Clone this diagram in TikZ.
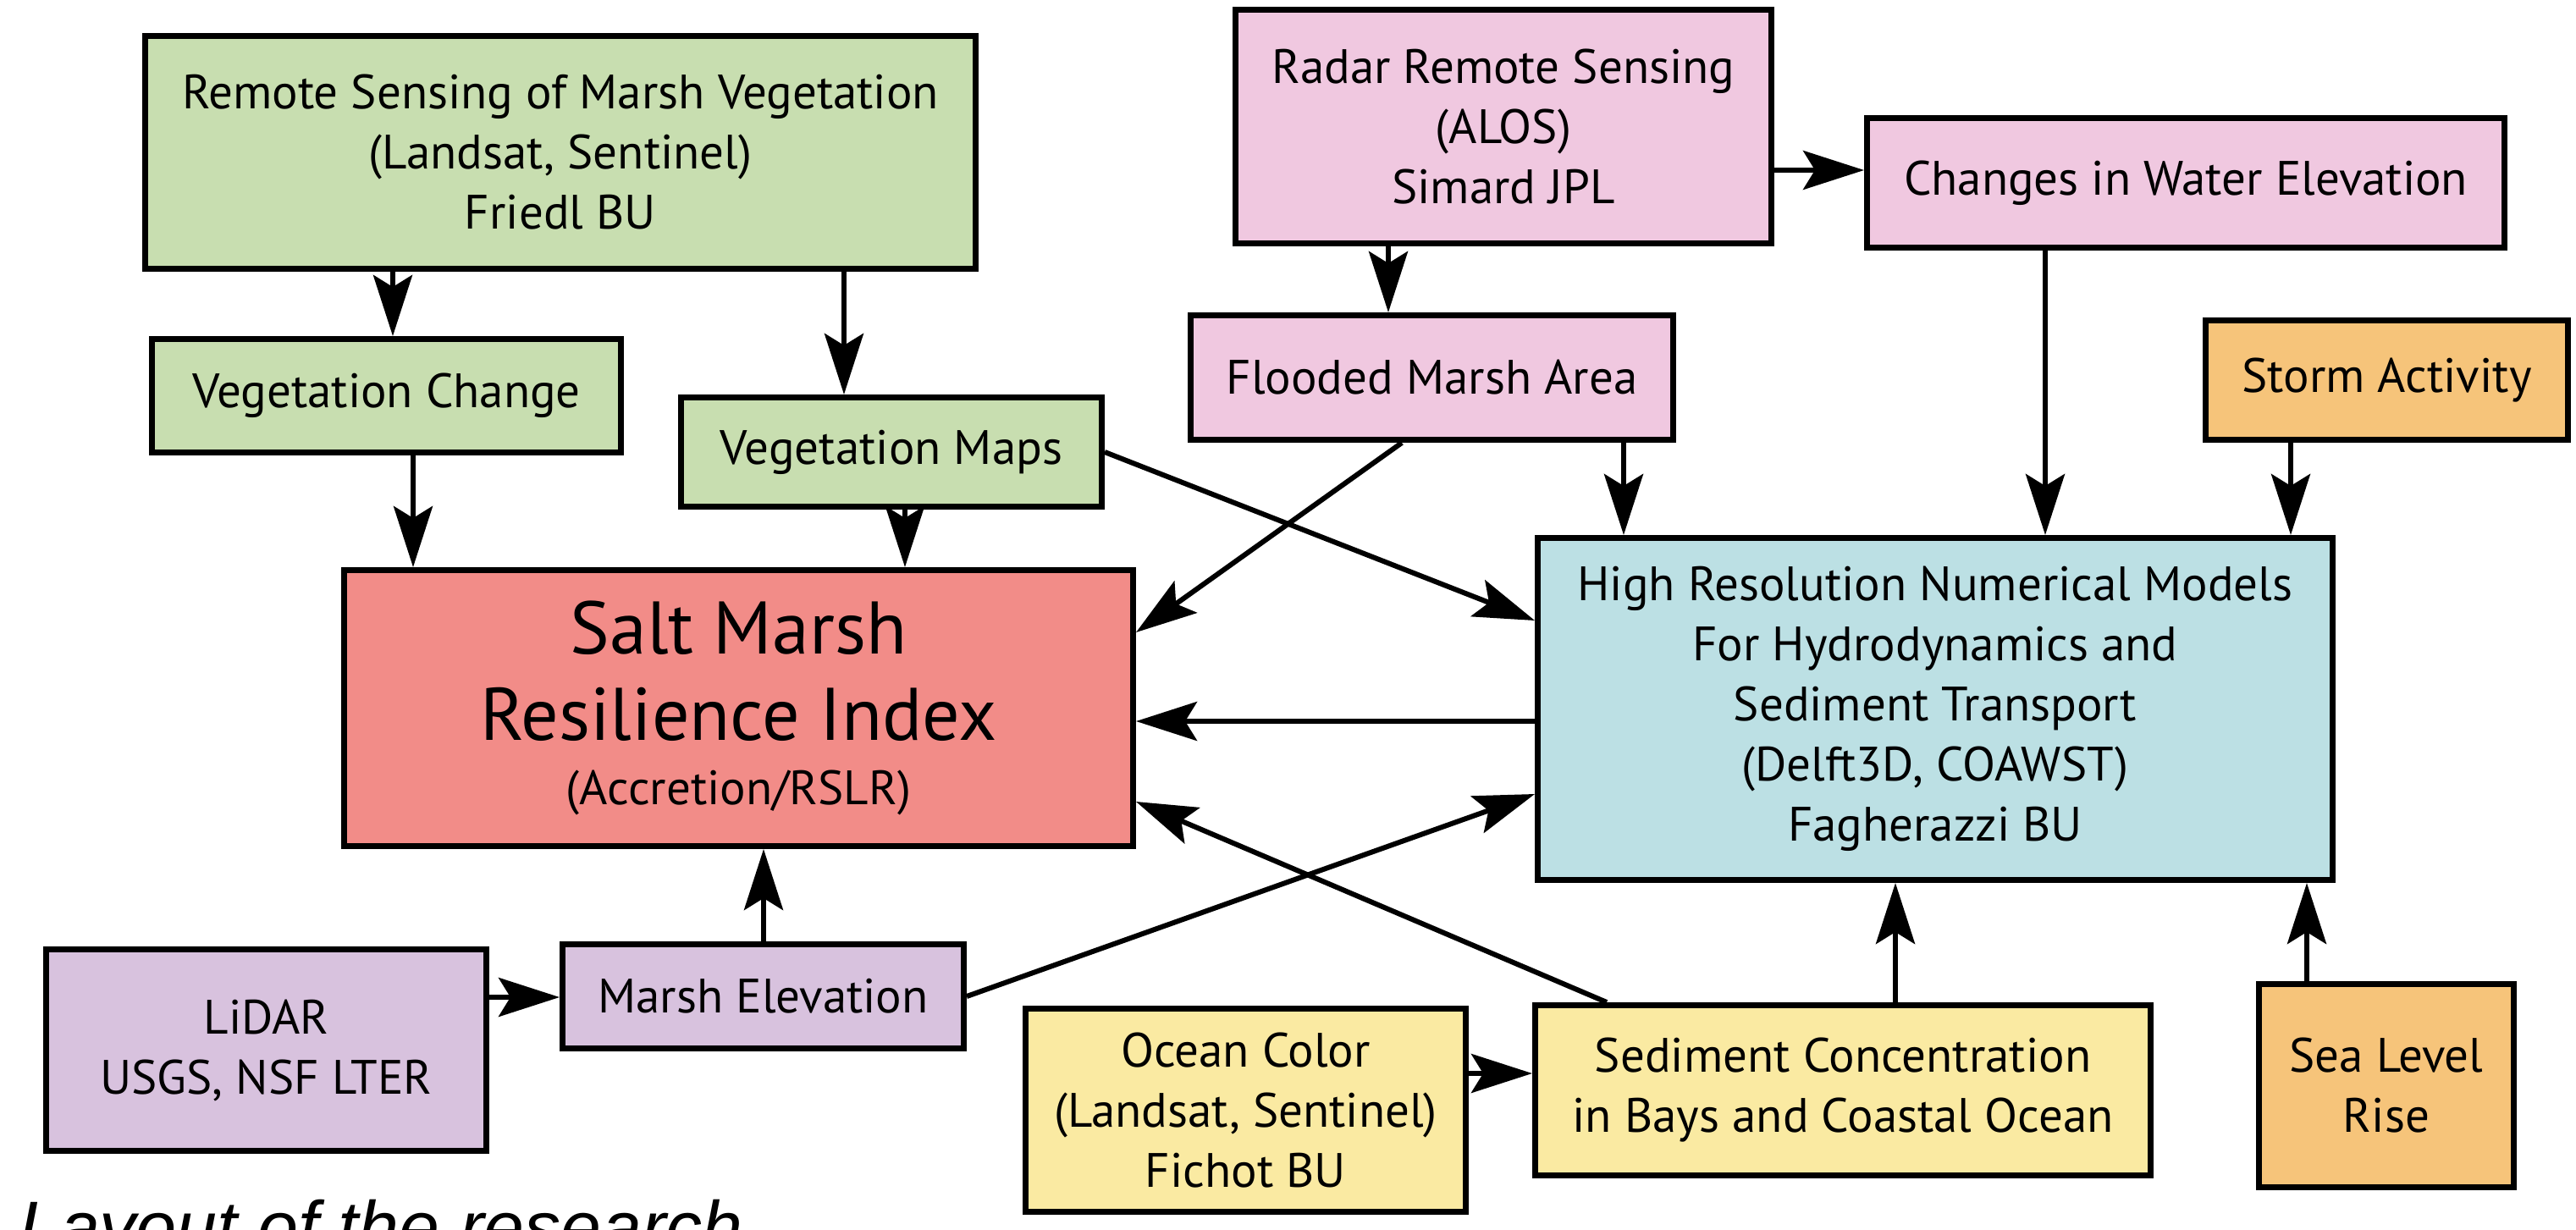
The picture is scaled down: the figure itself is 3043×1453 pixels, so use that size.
\documentclass[tikz,border=0pt]{standalone}
\usepackage{fontspec}
\setmainfont{PT Sans}
\newfontfamily\capfont{Liberation Sans}
\usetikzlibrary{arrows.meta}
\definecolor{cgreen}{HTML}{C8DEB0}
\definecolor{cpink}{HTML}{F0C8E0}
\definecolor{cred}{HTML}{F28C88}
\definecolor{cblue}{HTML}{BCE0E4}
\definecolor{cyellow}{HTML}{FAEAA2}
\definecolor{corange}{HTML}{F6C47A}
\definecolor{cpurple}{HTML}{D8C2DE}
\tikzset{
  boxnode/.style={draw=black, line width=7pt, inner sep=0pt, align=center,
    font=\fontsize{57}{71}\selectfont, text=black},
  arr/.style={line width=6pt, -{Stealth[length=72pt, width=46pt, inset=14pt]}},
}
\begin{document}
\begin{tikzpicture}[x=1pt,y=-1pt]
\useasboundingbox (0,0) rectangle (3043,1453);
\clip (0,0) rectangle (3043,1453);
\fill[white] (0,0) rectangle (3043,1453);

\node[boxnode, fill=cgreen, minimum width=981pt, minimum height=275pt] (A) at (662,180)
  {Remote Sensing of Marsh Vegetation\\(Landsat, Sentinel)\\Friedl BU};
\node[boxnode, fill=cgreen, minimum width=554pt, minimum height=134pt] (VC) at (456.5,467.5)
  {Vegetation Change};
\node[boxnode, fill=cgreen, minimum width=497pt, minimum height=129pt] (VM) at (1053,534)
  {Vegetation Maps};
\node[boxnode, fill=cred, minimum width=932pt, minimum height=326pt,
      font=\fontsize{88}{102}\selectfont] (SM) at (872.5,836.5)
  {Salt Marsh\\Resilience Index\\[-26pt]\fontsize{57}{102}\selectfont (Accretion/RSLR)};
\node[boxnode, fill=cpink, minimum width=633pt, minimum height=276pt] (R) at (1776,149.5)
  {Radar Remote Sensing\\(ALOS)\\Simard JPL};
\node[boxnode, fill=cpink, minimum width=753pt, minimum height=153pt] (CWE) at (2582,216)
  {Changes in Water Elevation};
\node[boxnode, fill=cpink, minimum width=570pt, minimum height=147pt] (FMA) at (1691.5,446)
  {Flooded Marsh Area};
\node[boxnode, fill=corange, minimum width=428pt, minimum height=141pt] (ST) at (2819.5,449)
  {Storm Activity};
\node[boxnode, fill=cblue, minimum width=939pt, minimum height=404pt] (HR) at (2286,837.5)
  {High Resolution Numerical Models\\For Hydrodynamics and\\Sediment Transport\\(Delft3D, COAWST)\\Fagherazzi BU};
\node[boxnode, fill=cpurple, minimum width=520pt, minimum height=238pt] (LI) at (314.5,1240.5)
  {LiDAR\\USGS, NSF LTER};
\node[boxnode, fill=cpurple, minimum width=474pt, minimum height=123pt] (ME) at (901.5,1177)
  {Marsh Elevation};
\node[boxnode, fill=cyellow, minimum width=520pt, minimum height=240pt] (OC) at (1471.5,1311.5)
  {Ocean Color\\(Landsat, Sentinel)\\Fichot BU};
\node[boxnode, fill=cyellow, minimum width=727pt, minimum height=201pt] (SED) at (2177,1288)
  {Sediment Concentration\\in Bays and Coastal Ocean};
\node[boxnode, fill=corange, minimum width=301pt, minimum height=240pt] (SLR) at (2819,1282.5)
  {Sea Level\\Rise};

% connectors
\draw[arr] ([xshift=-198]A.south) -- ([xshift=7.5]VC.north);
\draw[arr] ([xshift=335]A.south) -- ([xshift=-56]VM.north);
\draw[arr] ([xshift=31.5]VC.south) -- ([xshift=-384.5]SM.north);
\draw[arr] ([xshift=16]VM.south) -- ([xshift=196.5]SM.north);
\draw[arr] ([xshift=-136]R.south) -- ([xshift=-51.5]FMA.north);
\draw[arr] ([yshift=-51.5]R.east) -- ([yshift=15]CWE.west);
\draw[arr] ([xshift=226.5]FMA.south) -- ([xshift=-368]HR.north);
\draw[arr] ([xshift=-166]CWE.south) -- ([xshift=130]HR.north);
\draw[arr] ([xshift=-113.5]ST.south) -- ([xshift=420]HR.north);
\draw[arr] ([xshift=-35.5]FMA.south) -- ([yshift=89.5]SM.east);
\draw[arr] (VM.east) -- ([yshift=104.5]HR.west);
\draw[arr] ([yshift=-14.5]HR.west) -- ([yshift=-15.5]SM.east);
\draw[arr] (ME.east) -- ([yshift=-100.5]HR.west);
\draw[arr] ([xshift=-279]SED.north) -- ([yshift=-110.5]SM.east);
\draw[arr] ([xshift=0.5]ME.north) -- ([xshift=29.5]SM.south);
\draw[arr] ([yshift=62.5]LI.east) -- ([yshift=-1]ME.west);
\draw[arr] ([yshift=43.5]OC.east) -- ([yshift=20]SED.west);
\draw[arr] ([xshift=62]SED.north) -- ([xshift=-47]HR.south);
\draw[arr] ([xshift=-94]SLR.north) -- ([xshift=439]HR.south);

% caption (cut off at the lower edge, as in the reference)
\node[anchor=base west, inner sep=0pt, font=\capfont\itshape\fontsize{86}{100}\selectfont] (cap) at (22,1479) {Layout of the research};
\end{tikzpicture}
\end{document}
